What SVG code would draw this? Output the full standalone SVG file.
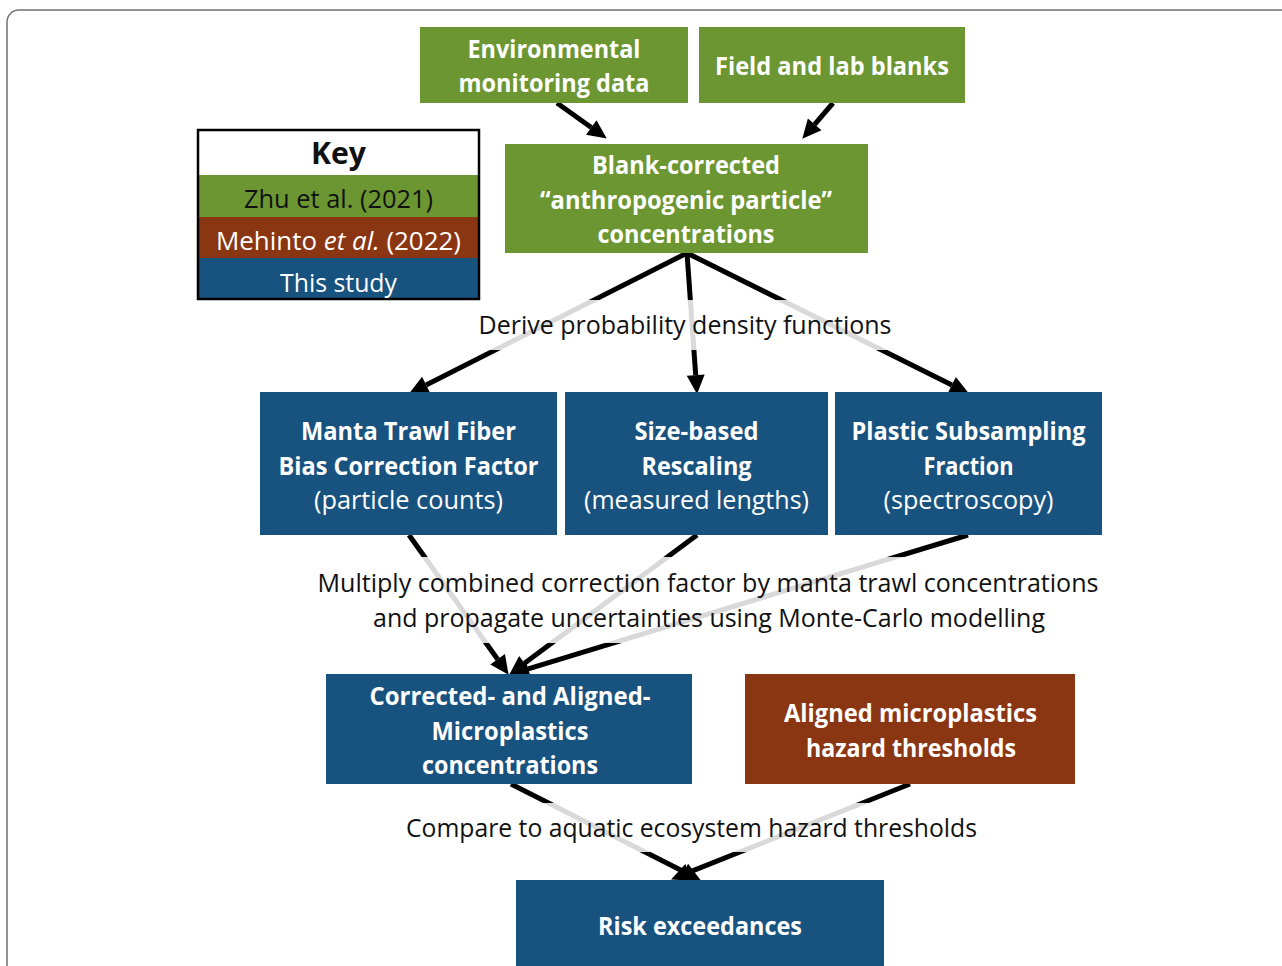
<svg xmlns="http://www.w3.org/2000/svg" width="1282" height="966" viewBox="0 0 1282 966">
<style>
.t{font-family:"Open Sans","Liberation Sans",sans-serif;font-size:25px;text-anchor:middle}
.b{font-weight:bold;fill:#fff}
.w{fill:#fff}
.k{fill:#111}
.green{fill:#6b9632}
.blue{fill:#18527f}
.brown{fill:#8a3613}
.ln{stroke:#000;stroke-width:5;fill:none;marker-end:url(#ah)}
.gl{stroke:#d9d9d9;stroke-width:5;fill:none}
</style>
<defs>
<marker id="ah" markerUnits="userSpaceOnUse" markerWidth="20" markerHeight="20" refX="0" refY="9" orient="auto" overflow="visible">
<path d="M0,0 L19,9 L0,18 Z" fill="#000"/>
</marker>
<clipPath id="c1"><rect x="0" y="300" width="1282" height="50"/></clipPath>
<clipPath id="c2"><rect x="0" y="557" width="1282" height="86"/></clipPath>
<clipPath id="c3"><rect x="0" y="803" width="1282" height="49"/></clipPath>
<clipPath id="o1"><rect x="0" y="0" width="1282" height="300"/><rect x="0" y="350" width="1282" height="616"/></clipPath>
<clipPath id="o2"><rect x="0" y="0" width="1282" height="557"/><rect x="0" y="643" width="1282" height="323"/></clipPath>
<clipPath id="o3"><rect x="0" y="0" width="1282" height="803"/><rect x="0" y="852" width="1282" height="114"/></clipPath>
</defs>
<rect width="1282" height="966" fill="#fff"/>
<rect x="7" y="10" width="1320" height="1000" rx="12" fill="none" stroke="#707070" stroke-width="1.5"/>

<g id="connectors">
<line class="ln" x1="557" y1="103" x2="591.3" y2="127.5"/>
<line class="ln" x1="833" y1="103" x2="814.7" y2="124.3"/>
<g clip-path="url(#o1)">
<line class="ln" x1="687" y1="253" x2="426.1" y2="384.9"/>
<line class="ln" x1="687" y1="253" x2="695.7" y2="375.1"/>
<line class="ln" x1="687" y1="253" x2="951.9" y2="385"/>
</g>
<g clip-path="url(#o2)">
<line class="ln" x1="409" y1="535" x2="497.6" y2="659.3"/>
<line class="ln" x1="697" y1="535" x2="524.5" y2="663.3"/>
<line class="ln" x1="968" y1="535" x2="528.2" y2="668.8"/>
</g>
<g clip-path="url(#o3)">
<line class="ln" x1="511" y1="784" x2="684" y2="871.8"/>
<line class="ln" x1="910" y1="784" x2="688.7" y2="872.4"/>
</g>
<g clip-path="url(#c1)">
<line class="gl" x1="687" y1="253" x2="426.1" y2="384.9"/>
<line class="gl" x1="687" y1="253" x2="695.7" y2="375.1"/>
<line class="gl" x1="687" y1="253" x2="951.9" y2="385"/>
</g>
<g clip-path="url(#c2)">
<line class="gl" x1="409" y1="535" x2="497.6" y2="659.3"/>
<line class="gl" x1="697" y1="535" x2="524.5" y2="663.3"/>
<line class="gl" x1="968" y1="535" x2="528.2" y2="668.8"/>
</g>
<g clip-path="url(#c3)">
<line class="gl" x1="511" y1="784" x2="684" y2="871.8"/>
<line class="gl" x1="910" y1="784" x2="688.7" y2="872.4"/>
</g>
</g>

<g id="label-derive">
<text class="t k" x="685" y="334" textLength="413" lengthAdjust="spacingAndGlyphs">Derive probability density functions</text>
</g>
<g id="label-multiply">
<text class="t k" x="708" y="592" textLength="781" lengthAdjust="spacingAndGlyphs">Multiply combined correction factor by manta trawl concentrations</text>
<text class="t k" x="709" y="627" textLength="672" lengthAdjust="spacingAndGlyphs">and propagate uncertainties using Monte-Carlo modelling</text>
</g>
<g id="label-compare">
<text class="t k" x="691.5" y="837" textLength="571" lengthAdjust="spacingAndGlyphs">Compare to aquatic ecosystem hazard thresholds</text>
</g>

<g id="key">
<rect x="198" y="130" width="281" height="169" fill="#fff"/>
<rect x="198" y="175" width="281" height="42" class="green"/>
<rect x="198" y="217" width="281" height="41" class="brown"/>
<rect x="198" y="258" width="281" height="41" class="blue"/>
<rect x="198" y="130" width="281" height="169" fill="none" stroke="#000" stroke-width="2.5"/>
<text class="t k" x="338.5" y="164" style="font-weight:bold;font-size:30px" textLength="55" lengthAdjust="spacingAndGlyphs">Key</text>
<text class="t k" x="338.5" y="208" textLength="189" lengthAdjust="spacingAndGlyphs">Zhu et al. (2021)</text>
<text class="t w" x="338.5" y="250" textLength="245" lengthAdjust="spacingAndGlyphs">Mehinto <tspan font-style="italic">et al.</tspan> (2022)</text>
<text class="t w" x="338.5" y="292" textLength="117" lengthAdjust="spacingAndGlyphs">This study</text>
</g>

<g id="env">
<rect x="420" y="27" width="268" height="76" class="green"/>
<text class="t b" x="554" y="58" textLength="173" lengthAdjust="spacingAndGlyphs">Environmental</text>
<text class="t b" x="554" y="92" textLength="191" lengthAdjust="spacingAndGlyphs">monitoring data</text>
</g>
<g id="blanks">
<rect x="699" y="27" width="266" height="76" class="green"/>
<text class="t b" x="832" y="75" textLength="234" lengthAdjust="spacingAndGlyphs">Field and lab blanks</text>
</g>
<g id="blank-corrected">
<rect x="505" y="144" width="363" height="109" class="green"/>
<text class="t b" x="686" y="174" textLength="188" lengthAdjust="spacingAndGlyphs">Blank-corrected</text>
<text class="t b" x="686" y="209" textLength="292" lengthAdjust="spacingAndGlyphs">“anthropogenic particle”</text>
<text class="t b" x="686" y="243" textLength="177" lengthAdjust="spacingAndGlyphs">concentrations</text>
</g>

<g id="manta">
<rect x="260" y="392" width="297" height="143" class="blue"/>
<text class="t b" x="408.5" y="440" textLength="215" lengthAdjust="spacingAndGlyphs">Manta Trawl Fiber</text>
<text class="t b" x="408.5" y="475" textLength="260" lengthAdjust="spacingAndGlyphs">Bias Correction Factor</text>
<text class="t w" x="408.5" y="509" textLength="189" lengthAdjust="spacingAndGlyphs">(particle counts)</text>
</g>
<g id="size">
<rect x="565" y="392" width="263" height="143" class="blue"/>
<text class="t b" x="696.5" y="440" textLength="124" lengthAdjust="spacingAndGlyphs">Size-based</text>
<text class="t b" x="696.5" y="475" textLength="110" lengthAdjust="spacingAndGlyphs">Rescaling</text>
<text class="t w" x="696.5" y="509" textLength="225" lengthAdjust="spacingAndGlyphs">(measured lengths)</text>
</g>
<g id="plastic">
<rect x="835" y="392" width="267" height="143" class="blue"/>
<text class="t b" x="968.5" y="440" textLength="234" lengthAdjust="spacingAndGlyphs">Plastic Subsampling</text>
<text class="t b" x="968.5" y="475" textLength="90" lengthAdjust="spacingAndGlyphs">Fraction</text>
<text class="t w" x="968.5" y="509" textLength="170" lengthAdjust="spacingAndGlyphs">(spectroscopy)</text>
</g>

<g id="corrected">
<rect x="326" y="674" width="366" height="110" class="blue"/>
<text class="t b" x="510" y="705" textLength="281" lengthAdjust="spacingAndGlyphs">Corrected- and Aligned-</text>
<text class="t b" x="510" y="740" textLength="157" lengthAdjust="spacingAndGlyphs">Microplastics</text>
<text class="t b" x="510" y="774" textLength="176" lengthAdjust="spacingAndGlyphs">concentrations</text>
</g>
<g id="aligned">
<rect x="745" y="674" width="330" height="110" class="brown"/>
<text class="t b" x="910.5" y="722" textLength="253" lengthAdjust="spacingAndGlyphs">Aligned microplastics</text>
<text class="t b" x="911" y="757" textLength="210" lengthAdjust="spacingAndGlyphs">hazard thresholds</text>
</g>

<g id="risk">
<rect x="516" y="880" width="368" height="100" class="blue"/>
<text class="t b" x="700" y="935" textLength="204" lengthAdjust="spacingAndGlyphs">Risk exceedances</text>
</g>
</svg>
